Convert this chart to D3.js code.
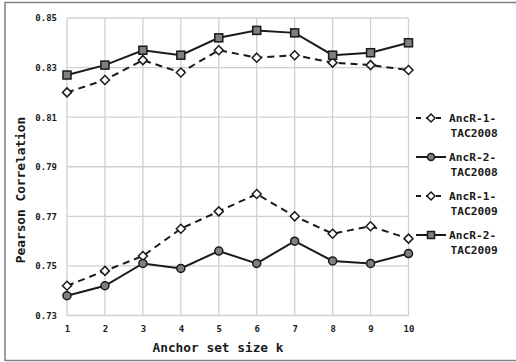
<!DOCTYPE html>
<html>
<head>
<meta charset="utf-8">
<script src="https://cdn.jsdelivr.net/npm/d3@7"></script>
<style>
  body { margin: 0; background: #fff; }
  text { font-family: "DejaVu Sans Mono", monospace; font-weight: bold; fill: #1a1a1a; }
</style>
</head>
<body>
<div id="chart"></div>
<script>
// Anchor set size k
const kValues = [1, 2, 3, 4, 5, 6, 7, 8, 9, 10];
const yTicks = [0.73, 0.75, 0.77, 0.79, 0.81, 0.83, 0.85];

// series values
const ancR1Tac2008 = [0.742, 0.748, 0.754, 0.765, 0.772, 0.779, 0.770, 0.763, 0.766, 0.761];
const ancR2Tac2008 = [0.738, 0.742, 0.751, 0.749, 0.756, 0.751, 0.760, 0.752, 0.751, 0.755];
const ancR1Tac2009 = [0.820, 0.825, 0.833, 0.828, 0.837, 0.834, 0.835, 0.832, 0.831, 0.829];
const ancR2Tac2009 = [0.827, 0.831, 0.837, 0.835, 0.842, 0.845, 0.844, 0.835, 0.836, 0.840];

const seriesNames = ['AncR-1-TAC2008', 'AncR-2-TAC2008', 'AncR-1-TAC2009', 'AncR-2-TAC2009'];

const series = [
  { name: seriesNames[0], values: ancR1Tac2008, marker: 'diamond', dashed: true },
  { name: seriesNames[1], values: ancR2Tac2008, marker: 'circle', dashed: false },
  { name: seriesNames[2], values: ancR1Tac2009, marker: 'diamond', dashed: true },
  { name: seriesNames[3], values: ancR2Tac2009, marker: 'square', dashed: false }
];

const W = 516, H = 362;
const margin = { top: 18, right: 107.5, bottom: 46.5, left: 67 };
const width = W - margin.left - margin.right;
const height = H - margin.top - margin.bottom;

const svg = d3.select('#chart').append('svg')
  .attr('width', W)
  .attr('height', H);

// outer frame
svg.append('rect')
  .attr('x', 5).attr('y', 2.5)
  .attr('width', 520).attr('height', 358)
  .attr('fill', 'none')
  .attr('stroke', '#808080')
  .attr('stroke-width', 1.5);

const g = svg.append('g')
  .attr('transform', `translate(${margin.left},${margin.top})`);

const x = d3.scaleLinear().domain([1, 10]).range([0, width]);
const y = d3.scaleLinear().domain([0.73, 0.85]).range([height, 0]);

// gridlines
g.append('g')
  .selectAll('line')
  .data(yTicks)
  .enter().append('line')
  .attr('x1', 0).attr('x2', width)
  .attr('y1', d => y(d)).attr('y2', d => y(d))
  .attr('stroke', '#d0d0d0')
  .attr('stroke-width', 1.3);

g.append('g')
  .selectAll('line')
  .data(kValues)
  .enter().append('line')
  .attr('x1', d => x(d)).attr('x2', d => x(d))
  .attr('y1', 0).attr('y2', height)
  .attr('stroke', '#d0d0d0')
  .attr('stroke-width', 1.3);

// axes
const xAxis = d3.axisBottom(x).tickValues(kValues).tickSize(0).tickPadding(10).tickFormat(d3.format('d'));
const yAxis = d3.axisLeft(y).tickValues(yTicks).tickSize(0).tickPadding(10).tickFormat(d3.format('.2f'));

g.append('g')
  .attr('class', 'x axis')
  .attr('transform', `translate(0,${height})`)
  .call(xAxis)
  .call(s => s.select('.domain').remove())
  .selectAll('text').style('font-size', '9px');

g.append('g')
  .attr('class', 'y axis')
  .call(yAxis)
  .call(s => s.select('.domain').remove())
  .selectAll('text').style('font-size', '9px');

// axis titles
svg.append('text')
  .attr('x', 218)
  .attr('y', 352)
  .attr('text-anchor', 'middle')
  .style('font-size', '12.8px')
  .text('Anchor set size k');

svg.append('text')
  .attr('transform', 'translate(25,190) rotate(-90)')
  .attr('text-anchor', 'middle')
  .style('font-size', '12.8px')
  .text('Pearson Correlation');

function drawMarker(sel, kind, size) {
  if (kind === 'square') {
    sel.append('rect')
      .attr('x', -size / 2).attr('y', -size / 2)
      .attr('width', size).attr('height', size)
      .attr('fill', '#7f7f7f').attr('stroke', '#1a1a1a').attr('stroke-width', 1.5);
  } else if (kind === 'circle') {
    sel.append('circle')
      .attr('r', size / 2)
      .attr('fill', '#7f7f7f').attr('stroke', '#1a1a1a').attr('stroke-width', 1.5);
  } else {
    const r = size / 2 + 0.5;
    sel.append('path')
      .attr('d', `M0,${-r}L${r},0L0,${r}L${-r},0Z`)
      .attr('fill', '#fff').attr('stroke', '#1a1a1a').attr('stroke-width', 1.5);
  }
}

const line = d3.line()
  .x((d, i) => x(kValues[i]))
  .y(d => y(d));

series.forEach(s => {
  g.append('path')
    .attr('d', line(s.values))
    .attr('fill', 'none')
    .attr('stroke', '#1a1a1a')
    .attr('stroke-width', 2)
    .attr('stroke-dasharray', s.dashed ? '7,5' : null);

  g.selectAll(null)
    .data(s.values)
    .enter().append('g')
    .attr('transform', (d, i) => `translate(${x(kValues[i])},${y(d)})`)
    .each(function () { drawMarker(d3.select(this), s.marker, 8); });
});

// legend
const legend = svg.append('g').attr('transform', 'translate(416,118)');
series.forEach((s, i) => {
  const item = legend.append('g').attr('transform', `translate(0,${i * 39})`);
  item.append('line')
    .attr('x1', 0).attr('x2', 30)
    .attr('y1', 0).attr('y2', 0)
    .attr('stroke', '#1a1a1a')
    .attr('stroke-width', 2)
    .attr('stroke-dasharray', s.dashed ? '5,5' : null);
  const m = item.append('g').attr('transform', 'translate(15,0)');
  drawMarker(m, s.marker, 7);
  const parts = s.name.split('-');
  const t = item.append('text')
    .attr('x', 33)
    .attr('y', 4)
    .style('font-size', '11.2px');
  t.append('tspan').attr('x', 33).text(parts[0] + '-' + parts[1] + '-');
  t.append('tspan').attr('x', 34.5).attr('dy', 15).text(parts[2]);
});
</script>
</body>
</html>
